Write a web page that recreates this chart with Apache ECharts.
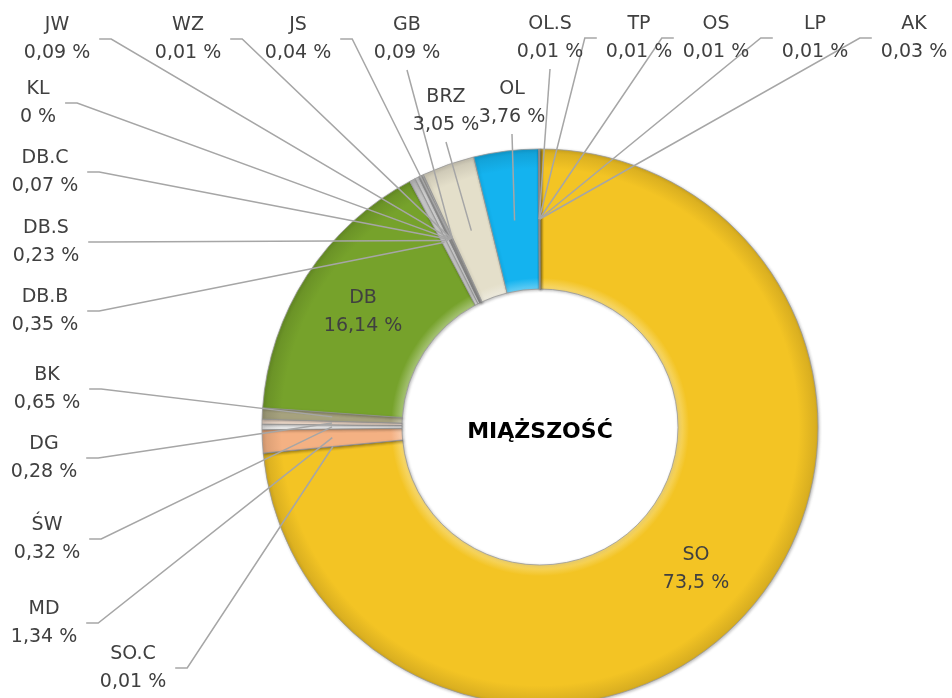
<!DOCTYPE html>
<html>
<head>
<meta charset="utf-8">
<script src="https://cdn.jsdelivr.net/npm/echarts@6/dist/echarts.min.js"></script>
<style>
  html, body { margin: 0; padding: 0; background: #fff; }
  #chart { width: 952px; height: 698px; }
</style>
</head>
<body>
<div id="chart"></div>
<script>
  // kolejność jak w wykresie, zgodnie z ruchem wskazówek zegara od góry
  var names = ['SO', 'SO.C', 'MD', 'ŚW', 'DG', 'BK', 'DB', 'DB.B', 'DB.S', 'DB.C', 'KL',
               'JW', 'WZ', 'JS', 'GB', 'BRZ', 'OL', 'OL.S', 'TP', 'OS', 'LP', 'AK'];
  var values = [73.5, 0.01, 1.34, 0.32, 0.28, 0.65, 16.14, 0.35, 0.23, 0.07, 0,
                0.09, 0.01, 0.04, 0.09, 3.05, 3.76, 0.01, 0.01, 0.01, 0.01, 0.03];
  var colors = ['#F3C424', '#D0D0D0', '#F4B183', '#F2F2F2', '#F8E2D2', '#A6A27E', '#76A22B',
                '#C8C8C8', '#DADADA', '#BDBDBD', '#D9D9D9', '#C4C4C4', '#D9D9D9', '#B8A888',
                '#CFCFCF', '#E4DFCA', '#14B3EF', '#5A5A5A', '#6A6A6A', '#5A5A5A', '#6A6A6A', '#505050'];
  var centerTitle = 'MIĄŻSZOŚĆ';

  var CX = 540, CY = 427, R0 = 138, R = 278;
  var R_MID = (R0 + R) / 2;

  // położenie etykiet zewnętrznych: [x, y, strona podpięcia linii]
  var labelPos = {
    'JW':   [57, 39, 'L'],
    'WZ':   [188, 39, 'L'],
    'JS':   [298, 39, 'L'],
    'GB':   [407, 39, 'B'],
    'OL.S': [550, 38, 'B'],
    'TP':   [639, 38, 'R'],
    'OS':   [716, 38, 'R'],
    'LP':   [815, 38, 'R'],
    'AK':   [914, 38, 'R'],
    'KL':   [38, 103, 'L'],
    'DB.C': [45, 172, 'L'],
    'DB.S': [46, 242, 'L'],
    'DB.B': [45, 311, 'L'],
    'BK':   [47, 389, 'L'],
    'DG':   [44, 458, 'L'],
    'ŚW':   [47, 539, 'L'],
    'MD':   [44, 623, 'L'],
    'SO.C': [133, 668, 'L'],
    'BRZ':  [446, 111, 'B'],
    'OL':   [512, 103, 'B']
  };
  var insideNames = ['SO', 'DB'];

  function fmt(v) {
    return String(v).replace('.', ',') + ' %';
  }

  // rozjaśnienie / przyciemnienie koloru hex
  function shade(hex, amt) {
    var n = parseInt(hex.slice(1), 16);
    var r = n >> 16, g = (n >> 8) & 255, b = n & 255;
    function f(c) {
      c = amt >= 0 ? c + (255 - c) * amt : c * (1 + amt);
      return Math.round(Math.max(0, Math.min(255, c)));
    }
    return 'rgb(' + f(r) + ',' + f(g) + ',' + f(b) + ')';
  }

  // "wypukłość" pierścienia - gradient radialny w układzie globalnym
  function bevel(c) {
    var k = R0 / R;
    return {
      type: 'radial', x: CX, y: CY, r: R, global: true,
      colorStops: [
        { offset: 0, color: c },
        { offset: k, color: shade(c, 0.35) },
        { offset: k + 0.04, color: c },
        { offset: 0.93, color: c },
        { offset: 1, color: shade(c, -0.12) }
      ]
    };
  }

  // pierścień
  var ringData = names.map(function (n, i) {
    return { name: n, value: values[i], itemStyle: { color: bevel(colors[i]) } };
  });

  // ta sama geometria, przezroczysta - tylko etykiety i linie nad pierścieniem
  var labelData = names.map(function (n, i) {
    var inside = insideNames.indexOf(n) >= 0;
    return {
      name: n,
      value: values[i],
      label: { position: inside ? 'inside' : 'outside' },
      labelLine: { show: !inside }
    };
  });

  var chart = echarts.init(document.getElementById('chart'));
  chart.setOption({
    animation: false,
    backgroundColor: '#fff',
    graphic: [{
      type: 'text',
      x: CX, y: CY + 5,
      style: {
        text: centerTitle,
        textAlign: 'center',
        textVerticalAlign: 'middle',
        fontFamily: 'DejaVu Sans',
        fontWeight: 'bold',
        fontSize: 22,
        fill: '#000'
      },
      z: 10
    }],
    series: [{
      type: 'pie',
      z: 2,
      silent: true,
      center: [CX, CY],
      radius: [R0, R],
      startAngle: 90,
      clockwise: true,
      label: { show: false },
      labelLine: { show: false },
      itemStyle: {
        borderColor: 'rgba(150,150,150,0.75)',
        borderWidth: 1,
        shadowBlur: 3,
        shadowColor: 'rgba(0,0,0,0.25)',
        shadowOffsetX: 1,
        shadowOffsetY: 1
      },
      data: ringData
    }, {
      type: 'pie',
      z: 3,
      silent: true,
      center: [CX, CY],
      radius: [R0, R],
      startAngle: 90,
      clockwise: true,
      avoidLabelOverlap: false,
      minShowLabelAngle: 0,
      itemStyle: { color: 'rgba(0,0,0,0)', borderWidth: 0 },
      label: {
        show: true,
        formatter: function (p) { return p.name + '\n' + fmt(p.value); },
        fontFamily: 'DejaVu Sans',
        fontSize: 19,
        lineHeight: 28,
        color: '#404040',
        align: 'center'
      },
      labelLine: {
        show: true,
        length: 10,
        length2: 10,
        lineStyle: { color: '#A6A6A6', width: 1.5 }
      },
      labelLayout: function (p) {
        var pos = labelPos[names[p.dataIndex]];
        if (!pos) return {};
        var w = p.labelRect.width, h = p.labelRect.height;
        var out = { x: pos[0], y: pos[1], align: 'center', verticalAlign: 'middle' };
        if (!p.labelLinePoints) return out;
        var p0 = p.labelLinePoints[0];
        var dx = p0[0] - CX, dy = p0[1] - CY;
        var d = Math.sqrt(dx * dx + dy * dy) || 1;
        var a = [CX + dx / d * R_MID, CY + dy / d * R_MID];
        var e, k;
        if (pos[2] === 'L') {
          e = [pos[0] + w / 2 + 9, pos[1]];
          k = [e[0] + 12, e[1]];
        } else if (pos[2] === 'R') {
          e = [pos[0] - w / 2 - 9, pos[1]];
          k = [e[0] - 12, e[1]];
        } else {
          e = [pos[0], pos[1] + h / 2 + 3];
          k = [(a[0] + e[0]) / 2, (a[1] + e[1]) / 2];
        }
        out.labelLinePoints = [a, k, e];
        return out;
      },
      data: labelData
    }]
  });
</script>
</body>
</html>
